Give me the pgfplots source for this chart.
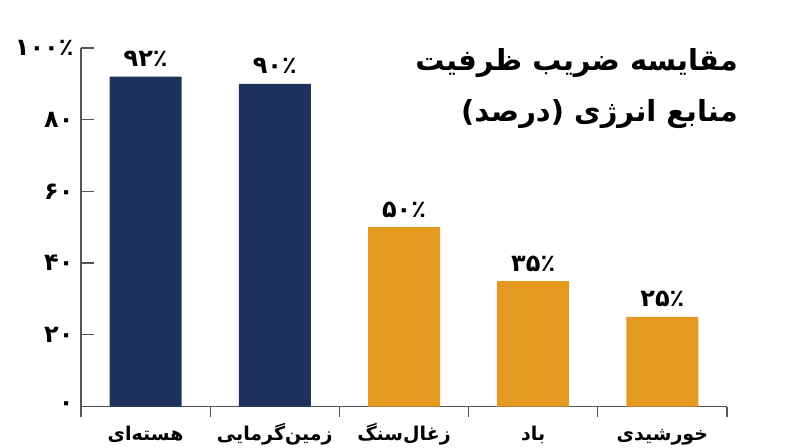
\documentclass[border=0pt]{standalone}
\usepackage{fontspec}
\usepackage{pgfplots}
\pgfplotsset{compat=1.18}
\TeXXeTstate=1
\newfontfamily\arabicfont[Script=Arabic]{DejaVu Sans}
\newcommand{\fa}[1]{{\arabicfont\bfseries\beginR #1\endR}}
\definecolor{navy}{RGB}{30,50,94}
\definecolor{amber}{RGB}{228,154,30}
\definecolor{axisgray}{RGB}{85,85,85}
\begin{document}
\begin{tikzpicture}[x=1pt,y=1pt]
\path[use as bounding box] (0,0) rectangle (800,447);
\begin{axis}[
  at={(81pt,40.5pt)}, anchor=south west,
  scale only axis, width=646pt, height=358.5pt,
  xmin=-0.5, xmax=4.5, ymin=0, ymax=100,
  axis lines*=left,
  axis line style={axisgray, line width=1.2pt},
  tick style={axisgray, line width=1.2pt},
  tick align=inside,
  major tick length=13pt,
  minor tick length=10pt,
  xtick={0,1,2,3,4},
  minor xtick={-0.5,0.5,1.5,2.5,3.5,4.5},
  every major x tick/.style={draw=none},
  xticklabels={\fa{هسته‌ای},\fa{زمین‌گرمایی},\fa{زغال‌سنگ},\fa{باد},\fa{خورشیدی}},
  xticklabel style={font=\arabicfont\bfseries\fontsize{19}{22}\selectfont, anchor=base, yshift=-21pt},
  ytick={0,20,40,60,80,100},
  yticklabels={۰,۲۰,۴۰,۶۰,۸۰,۱۰۰٪},
  yticklabel style={font=\arabicfont\bfseries\fontsize{24}{28}\selectfont, xshift=-4pt},
  ybar, bar width=72pt, bar shift=0pt,
  point meta=explicit symbolic,
  nodes near coords,
  every node near coord/.append style={font=\arabicfont\bfseries\fontsize{24}{28}\selectfont, text=black, anchor=base, yshift=10pt},
  clip=false,
]
\addplot[fill=navy, draw=none] coordinates {(0,92) [۹۲٪] (1,90) [۹۰٪]};
\addplot[fill=amber, draw=none] coordinates {(2,50) [۵۰٪] (3,35) [۳۵٪] (4,25) [۲۵٪]};
\end{axis}
\node[anchor=east, inner sep=0pt, font=\arabicfont\bfseries\fontsize{29}{34}\selectfont] at (738,384) {\beginR مقایسه ضریب ظرفیت\endR};
\node[anchor=east, inner sep=0pt, font=\arabicfont\bfseries\fontsize{29}{34}\selectfont] at (738,333) {\beginR منابع انرژی (درصد)\endR};
\end{tikzpicture}
\end{document}
